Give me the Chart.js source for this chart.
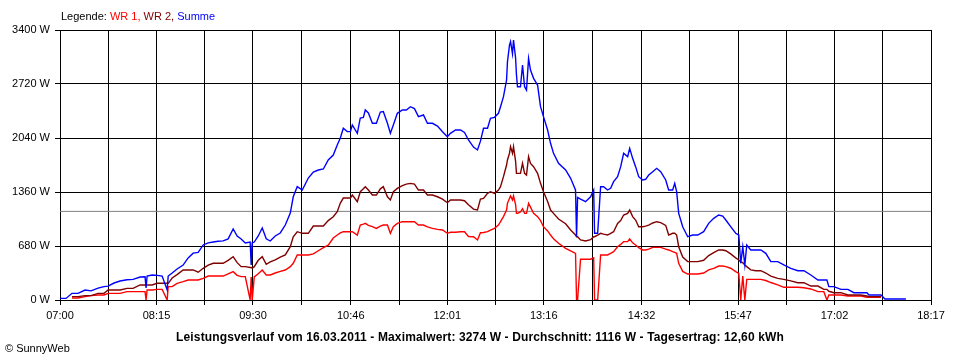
<!DOCTYPE html>
<html>
<head>
<meta charset="utf-8">
<script src="https://cdn.jsdelivr.net/npm/chart.js@4/dist/chart.umd.min.js"></script>
<style>
  html, body { margin: 0; padding: 0; background: #fff; }
  #wrap { position: relative; width: 960px; height: 360px; overflow: hidden; font-family: "Liberation Sans", Arial, sans-serif; }
  #c { position: absolute; left: 0; top: 0; }
  #legend { position: absolute; left: 61px; top: 10px; font-size: 11px; line-height: 13px; white-space: nowrap; }
  #title { position: absolute; left: 0; width: 960px; top: 330px; text-align: center; font-size: 12px; font-weight: bold; line-height: 14px; letter-spacing: 0.13px; white-space: nowrap; }
  #copy { position: absolute; left: 5px; top: 342px; font-size: 11px; line-height: 13px; white-space: nowrap; }
</style>
</head>
<body>
<div id="wrap">
  <canvas id="c" width="960" height="360"></canvas>
  <div id="legend"><span style="color:#000">Legende: </span><span style="color:#ff0000">WR 1, </span><span style="color:#800000">WR 2, </span><span style="color:#0000ff">Summe</span></div>
  <div id="title">Leistungsverlauf vom 16.03.2011 - Maximalwert: 3274 W - Durchschnitt: 1116 W - Tagesertrag: 12,60 kWh</div>
  <div id="copy">© SunnyWeb</div>
</div>
<script>
// Time axis labels (start 07:00)
const xTickLabels = ['07:00','08:15','09:30','10:46','12:01','13:16','14:32','15:47','17:02','18:17'];
// Y axis
const yMax = 3400;
const yStep = 680;
const average = 1116;

// Sample times, minutes after 07:00
const times = [
0,4.7,9.3,14.0,19.5,24.1,29.6,34.2,37.4,42.0,
46.7,52.1,56.8,62.3,66.1,66.9,67.7,71.6,75.5,79.4,
83.3,84.1,87.2,91.0,95.7,99.6,103.5,107.4,111.3,115.2,
119.1,122.9,126.8,130.7,134.6,137.7,140.8,144.0,147.8,148.6,
149.4,151.0,154.1,157.2,160.3,163.4,167.3,171.2,175.1,179.0,
181.3,184.4,188.3,193.0,196.9,200.8,204.7,208.5,212.4,215.5,
217.9,220.2,223.3,225.7,227.2,231.1,233.4,235.8,237.3,239.7,
242.8,245.9,249.0,251.3,254.5,256.8,259.1,262.2,266.1,269.2,
272.4,275.5,278.6,282.5,285.6,289.5,293.4,297.3,301.1,303.5,
307.4,311.3,314.4,317.5,321.4,324.5,326.8,329.2,332.3,334.6,
337.7,340.8,342.4,344.7,347.1,347.8,349.4,350.2,351.7,352.5,
354.1,354.8,355.6,357.9,359.5,361.1,362.6,364.2,365.7,368.1,
371.2,373.5,375.8,379.0,381.3,383.6,387.5,393.0,396.9,400.7,
401.5,402.3,404.6,408.5,412.4,414.8,415.5,417.9,420.2,422.5,
425.6,428.0,430.3,433.4,435.8,438.1,441.2,442.8,445.1,447.4,
449.8,452.9,455.2,457.6,460.7,463.8,466.9,470.8,473.1,476.2,
477.8,479.3,480.9,484.0,487.9,491.8,495.7,500.3,504.2,508.1,
512.0,515.1,517.5,521.3,525.2,527.6,529.1,530.7,532.3,533.8,
536.9,540.8,544.7,548.6,552.5,557.9,562.6,568.0,573.5,578.2,
583.6,589.1,593.7,596.1,597.6,601.5,607.0,612.4,617.1,622.5,
627.2,628.8,632.6,638.1,641.2,645.9,651.3,657.5
];

// Summe (W)
const summe = [
20,20,84,84,126,115,150,168,175,214,
239,255,260,290,293,151,300,315,310,302,
126,302,340,390,440,530,590,600,693,720,
730,740,745,770,894,806,768,718,730,440,
720,730,806,906,770,743,806,844,944,1095,
1300,1427,1385,1536,1612,1637,1650,1763,1826,1952,
2040,2162,2120,2120,2204,2099,2292,2300,2393,2355,
2225,2225,2367,2372,2225,2099,2204,2351,2393,2393,
2434,2410,2309,2330,2225,2225,2190,2120,2057,2099,
2141,2141,2110,2015,1926,1889,2000,2162,2162,2288,
2300,2351,2434,2560,2770,3001,3211,3253,3100,3274,
3050,2833,2686,2686,2959,2686,2644,3043,2896,2791,
2707,2434,2309,2141,1973,1847,1721,1637,1532,1385,
797,1292,1270,1238,1300,1385,840,840,1427,1427,
1385,1406,1490,1553,1679,1847,1805,1910,1784,1679,
1553,1511,1520,1574,1616,1658,1616,1511,1385,1385,
1469,1364,1091,923,797,818,818,860,965,1028,
1070,1057,1007,923,840,818,462,671,440,693,
630,630,630,588,483,483,441,399,369,369,
315,252,252,252,168,168,134,134,92,92,
92,63,63,63,13,13,13,13
];

// WR 2 (W)
const wr2 = [
null,null,42,42,55,55,84,84,126,126,
126,147,147,189,189,189,189,189,210,210,
210,210,277,320,378,378,378,350,399,440,
462,462,462,500,545,470,420,420,410,410,
400,420,500,545,450,480,504,540,567,671,
797,860,840,840,932,932,932,1000,1049,1112,
1221,1284,1284,1284,1322,1238,1364,1400,1427,1385,
1322,1322,1400,1427,1300,1259,1364,1406,1440,1460,
1469,1460,1385,1385,1322,1322,1300,1270,1225,1259,
1259,1259,1250,1200,1145,1133,1270,1280,1343,1364,
1343,1385,1427,1553,1700,1763,1850,1931,1847,1931,
1750,1595,1595,1595,1721,1595,1574,1805,1720,1679,
1595,1469,1364,1240,1133,1091,1020,960,881,818,
797,797,756,743,760,797,797,818,840,830,
818,840,860,965,1000,1070,1091,1133,1050,1007,
923,923,930,944,970,986,975,940,818,840,
840,818,671,540,483,483,483,500,560,596,
630,630,620,580,530,504,480,470,441,420,
380,369,369,340,300,273,260,240,218,218,
176,176,134,134,110,92,92,63,63,63,
50,42,42,42,null,null,null,null
];

// WR 1 (W)
const wr1 = [
null,null,25,25,42,55,63,63,84,84,
84,105,105,105,105,0,126,126,134,134,
0,168,168,210,231,252,252,252,273,302,
302,302,302,330,357,310,294,294,0,290,
0,290,330,378,315,315,340,360,378,420,
462,567,567,567,580,620,660,690,780,818,
844,860,860,860,860,818,944,955,965,940,
923,902,930,944,944,840,923,965,986,986,
986,986,944,944,920,902,890,881,840,853,
853,860,860,800,797,756,847,850,860,881,
902,944,986,1050,1133,1217,1280,1310,1259,1310,
1200,1091,1091,1108,1150,1091,1091,1217,1170,1091,
1050,1000,923,870,818,770,714,650,620,588,
0,0,513,513,513,530,0,0,567,567,
567,588,609,671,700,735,735,768,720,693,
660,630,630,640,663,663,663,640,630,610,
600,588,462,360,327,327,327,340,380,399,
428,428,420,400,357,336,0,300,0,260,
260,260,260,245,220,190,160,160,160,155,
139,105,105,0,63,63,63,50,50,50,
34,34,34,34,null,null,null,null
];

function toMin(s) { const [h, m] = s.split(':').map(Number); return (h - 7) * 60 + m; }
const labelMins = xTickLabels.map(toMin);
const gridMins = [];
labelMins.forEach((v, i) => {
  gridMins.push(v);
  if (i < labelMins.length - 1) gridMins.push((v + labelMins[i + 1]) / 2);
});

const pts = arr => times.map((t, i) => ({ x: t, y: arr[i] }));

new Chart(document.getElementById('c'), {
  type: 'line',
  data: {
    datasets: [
      { label: 'Summe', data: pts(summe), borderColor: '#0000ff', borderWidth: 1.4, tension: 0, pointRadius: 0, order: 1 },
      { label: 'WR 2', data: pts(wr2), borderColor: '#800000', borderWidth: 1.4, tension: 0, pointRadius: 0, order: 2 },
      { label: 'WR 1', data: pts(wr1), borderColor: '#ff0000', borderWidth: 1.4, tension: 0, pointRadius: 0, order: 3 },
      { label: 'Durchschnitt', data: [{ x: labelMins[0], y: average }, { x: labelMins[labelMins.length - 1], y: average }], borderColor: '#808080', borderWidth: 1, pointRadius: 0, order: 4 }
    ]
  },
  options: {
    responsive: false,
    animation: false,
    events: [],
    layout: { padding: { top: 30, right: 29, left: 0, bottom: 0 } },
    plugins: { legend: { display: false }, tooltip: { enabled: false } },
    scales: {
      x: {
        type: 'linear',
        min: labelMins[0],
        max: labelMins[labelMins.length - 1],
        afterBuildTicks: axis => { axis.ticks = gridMins.map(v => ({ value: v })); },
        afterFit: s => { s.height = 60; },
        grid: { color: '#000', lineWidth: 1, tickLength: 5, drawTicks: true },
        border: { display: true, color: '#000', width: 1 },
        ticks: {
          autoSkip: false, maxRotation: 0, padding: 4, color: '#000',
          font: { family: 'Liberation Sans', size: 11 },
          callback: (v, i) => (i % 2 === 0 ? xTickLabels[i / 2] : '')
        }
      },
      y: {
        min: 0, max: yMax,
        afterFit: s => { s.width = 60; },
        grid: { color: '#000', lineWidth: 1, tickLength: 5, drawTicks: true },
        border: { display: true, color: '#000', width: 1 },
        ticks: {
          stepSize: yStep, padding: 5, color: '#000',
          font: { family: 'Liberation Sans', size: 11 },
          callback: v => v + ' W'
        }
      }
    }
  }
});
</script>
</body>
</html>
